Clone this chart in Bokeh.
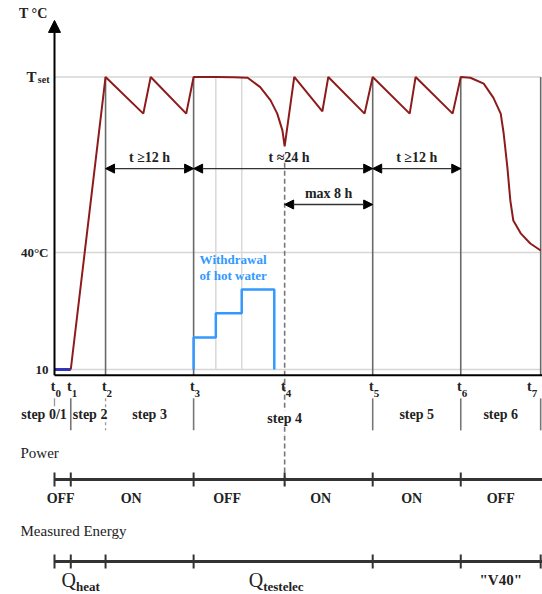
from bokeh.plotting import figure
from bokeh.models import Range1d, Arrow, NormalHead, ColumnDataSource
from bokeh.layouts import column
from bokeh.embed import file_html
from bokeh.resources import INLINE
from bokeh.core.properties import value

# ---------------- data ----------------
T_SET = 85
T_MID = 40
T_COLD = 10
level_values = [T_SET, T_MID, T_COLD]
level_labels = ["T", "40°C", "10"]

event_subs = ["0", "1", "2", "3", "4", "5", "6", "7"]
event_times = [0.0, 2.2, 6.9, 18.8, 31.1, 43.0, 54.9, 65.7]   # hours

preheat_time = [0.0, 2.2]
preheat_temp = [10, 10]

tank_time = [2.2, 6.9, 12.0, 13.0, 17.8, 18.8, 21.8, 24.2, 26.1, 27.8, 29.2,
             30.1, 30.8, 31.1, 32.4, 36.2, 37.0, 41.9, 43.0, 48.0, 48.8, 53.8,
             54.9, 56.2, 58.0, 59.3, 60.3, 60.7, 61.2, 61.6, 62.0, 63.0, 64.3, 65.7]
tank_temp = [10, 85, 75.6, 85, 75.6, 85, 85, 84.9, 84.8, 82.4, 79.0,
             75.6, 71.3, 67.2, 85, 76.2, 85, 75.6, 85, 75.6, 85, 75.6,
             85, 84.8, 83.3, 79.7, 75.6, 70.5, 61.8, 53.3, 48.2, 44.9, 42.3, 40.5]

draw_edges = [18.8, 21.8, 25.3, 29.7]
draw_levels = [18.2, 24.4, 30.5]

step_names = ["step 0/1", "step 2", "step 3", "step 4", "step 5", "step 6"]

power_bounds_idx = [0, 1, 3, 4, 5, 6, 7]
power_states = ["OFF", "ON", "OFF", "ON", "ON", "OFF"]
energy_bounds_idx = [0, 1, 2, 3, 5, 6, 7]

# ---------------- layout constants ----------------
W = 542
H1 = 435
H2 = 159
PX_PER_H = 7.4
X0 = -54 / PX_PER_H
X1 = X0 + W / PX_PER_H
Y0, Y1 = -6.92, 104.6
AXIS_T = 8.5
SERIF = value("'Liberation Serif', serif")
TXT = "#222222"

et = event_times

p1 = figure(width=W, height=H1, x_range=Range1d(X0, X1), y_range=Range1d(Y0, Y1),
            output_backend="svg", toolbar_location=None, min_border=0,
            background_fill_color="white", border_fill_color="white")
p1.axis.visible = False
p1.grid.visible = False
p1.outline_line_color = None

# light horizontal reference lines
p1.segment(x0=[0] * 3, x1=[et[-1]] * 3, y0=level_values, y1=level_values,
           line_color="#d6d6d6", line_width=1.5)
# light vertical lines at withdrawal steps
p1.segment(x0=draw_edges[1:3], x1=draw_edges[1:3], y0=[T_COLD] * 2, y1=[T_SET] * 2,
           line_color="#d9d9d9", line_width=1.5)
# dark phase boundaries
bounds = [et[2], et[3], et[5], et[6], et[7]]
p1.segment(x0=bounds, x1=bounds, y0=[AXIS_T] * 5, y1=[T_SET] * 5,
           line_color="#6a6a6a", line_width=1.6)
# separators below axis
sep = [et[1], et[3], et[5], et[6], et[7]]
p1.segment(x0=sep, x1=sep, y0=[2.6] * 5, y1=[-5.6] * 5, line_color="#777777", line_width=1.6)
p1.segment(x0=[et[2]], x1=[et[2]], y0=[2.6], y1=[-5.6], line_color="#999999",
           line_width=1.3, line_dash="3 3")
p1.segment(x0=[et[0]], x1=[et[0]], y0=[2.6], y1=[0.6], line_color="#999999", line_width=1.3)
# t4 dashed
p1.segment(x0=[et[4]], x1=[et[4]], y0=[63], y1=[Y0], line_color="#777777",
           line_width=1.6, line_dash="5 3")

# withdrawal step profile
wx, wy = [draw_edges[0]], [T_COLD]
for i, lv in enumerate(draw_levels):
    wx += [draw_edges[i], draw_edges[i + 1]]
    wy += [lv, lv]
wx.append(draw_edges[-1])
wy.append(T_COLD)
p1.line(wx, wy, line_color="#3399ff", line_width=2.5)

# curves
p1.line(preheat_time, preheat_temp, line_color="#3333bb", line_width=3)
p1.line(tank_time, tank_temp, line_color="#8e1b1b", line_width=2)

# x axis line
p1.segment(x0=[0], x1=[X1], y0=[AXIS_T], y1=[AXIS_T], line_color="black", line_width=2)
# y axis arrow
p1.add_layout(Arrow(x_start=0, y_start=AXIS_T, x_end=0, y_end=99.5, line_color="black",
                    line_width=2, end=NormalHead(size=12, fill_color="black", line_color="black")))

# duration arrows
ARROW_T = 61.5
MAX8_T = 52.3
arr = ColumnDataSource(dict(x0=[et[2], et[3], et[5], et[4]], x1=[et[3], et[5], et[6], et[5]],
                            y=[ARROW_T, ARROW_T, ARROW_T, MAX8_T]))
p1.add_layout(Arrow(x_start="x0", y_start="y", x_end="x1", y_end="y", source=arr,
                    line_color="#333333", line_width=1.3,
                    start=NormalHead(size=9, fill_color="black", line_color="black"),
                    end=NormalHead(size=9, fill_color="black", line_color="black")))
p1.text(x=[(et[2] + et[3]) / 2, (et[3] + et[5]) / 2 + 0.8, (et[5] + et[6]) / 2, (et[4] + et[5]) / 2],
        y=[ARROW_T, ARROW_T, ARROW_T, MAX8_T],
        text=["t ≥12 h", "t ≈24 h", "t ≥12 h", "max 8 h"],
        text_font=SERIF, text_font_size="14px", text_font_style="bold", text_color=TXT,
        text_align="center", text_baseline="middle", y_offset=-11)

# y labels
p1.text(x=[0, 0], y=[T_MID, T_COLD], text=level_labels[1:], text_font=SERIF,
        text_font_size="13px", text_font_style="bold", text_color=TXT,
        text_align="right", text_baseline="middle", x_offset=-6)
p1.text(x=[0], y=[T_SET], text=["T"], text_font=SERIF, text_font_size="15px",
        text_font_style="bold", text_color=TXT, text_align="right",
        text_baseline="middle", x_offset=-18)
p1.text(x=[0], y=[T_SET], text=["set"], text_font=SERIF, text_font_size="10px",
        text_font_style="bold", text_color=TXT, text_align="right",
        text_baseline="middle", x_offset=-5, y_offset=3)
p1.text(x=[0], y=[101.3], text=["T °C"], text_font=SERIF, text_font_size="14px",
        text_font_style="bold", text_color=TXT, text_align="right",
        text_baseline="middle", x_offset=-7)

# time labels (last one nudged inward so it stays on the page)
t_dx = [1] * 7 + [-9]
p1.text(x=et, y=[AXIS_T] * 8, text=["t"] * 8, text_font=SERIF, text_font_size="14px",
        text_font_style="bold", text_color=TXT, text_align="right",
        text_baseline="middle", x_offset=t_dx, y_offset=11)
p1.text(x=et, y=[AXIS_T] * 8, text=event_subs, text_font=SERIF, text_font_size="11px",
        text_font_style="bold", text_color=TXT, text_align="left",
        text_baseline="middle", x_offset=t_dx, y_offset=18)

# step labels
step_x = [et[1], et[1], (et[2] + et[3]) / 2, et[4], (et[5] + et[6]) / 2, (et[6] + et[7]) / 2]
p1.text(x=step_x[:1], y=[AXIS_T], text=step_names[:1], text_font=SERIF, text_font_size="14px",
        text_font_style="bold", text_color=TXT, text_align="right", text_baseline="middle",
        x_offset=-4, y_offset=39)
p1.text(x=step_x[1:2], y=[AXIS_T], text=step_names[1:2], text_font=SERIF, text_font_size="14px",
        text_font_style="bold", text_color=TXT, text_align="left", text_baseline="middle",
        x_offset=2, y_offset=39)
p1.text(x=step_x[2:3] + step_x[4:], y=[AXIS_T] * 3, text=[step_names[2]] + step_names[4:],
        text_font=SERIF, text_font_size="14px", text_font_style="bold", text_color=TXT,
        text_align="center", text_baseline="middle", y_offset=39)
p1.text(x=[step_x[3]], y=[AXIS_T], text=[step_names[3]], text_font=SERIF, text_font_size="14px",
        text_font_style="bold", text_color=TXT, text_align="center", text_baseline="middle",
        y_offset=43, background_fill_color="white")

# withdrawal label
p1.text(x=[draw_edges[0]] * 2, y=[draw_levels[-1]] * 2, text=["Withdrawal", "of hot water"],
        text_font=SERIF, text_font_size="13px", text_font_style="bold", text_color="#3399ff",
        text_align="left", text_baseline="middle", x_offset=6, y_offset=[-30, -14])

# ---------------- lower panel ----------------
p2 = figure(width=W, height=H2, x_range=p1.x_range, y_range=Range1d(-H2, 0),
            output_backend="svg", toolbar_location=None, min_border=0,
            background_fill_color="white", border_fill_color="white")
p2.axis.visible = False
p2.grid.visible = False
p2.outline_line_color = None

POWER_Y = -44
ENERGY_Y = -126
p2.segment(x0=[et[4]], x1=[et[4]], y0=[0], y1=[POWER_Y - 6], line_color="#777777",
           line_width=1.6, line_dash="5 3")

p2.text(x=[0, 0], y=[-17, -95], text=["Power", "Measured Energy"], text_font=SERIF,
        text_font_size="15px", text_color=TXT, text_align="left", text_baseline="middle",
        x_offset=-34)

for yy, idx in ((POWER_Y, power_bounds_idx), (ENERGY_Y, energy_bounds_idx)):
    p2.segment(x0=[0], x1=[X1], y0=[yy], y1=[yy], line_color="#333333", line_width=3)
    tx = [et[i] for i in idx[:-1]] if yy == POWER_Y else [et[i] for i in idx]
    p2.segment(x0=tx, x1=tx, y0=[yy - 7] * len(tx), y1=[yy + 7] * len(tx),
               line_color="#333333", line_width=2)

pmid = [(et[power_bounds_idx[i]] + et[power_bounds_idx[i + 1]]) / 2 for i in range(len(power_states))]
p2.text(x=pmid, y=[POWER_Y] * len(pmid), text=power_states, text_font=SERIF,
        text_font_size="14px", text_font_style="bold", text_color=TXT, text_align="center",
        text_baseline="middle", y_offset=19, x_offset=[-2, -1, -12, -8, -5, 0])

q_x = [(et[0] + et[2]) / 2, (et[3] + et[5]) / 2]
p2.text(x=q_x, y=[ENERGY_Y] * 2, text=["Q", "Q"], text_font=SERIF, text_font_size="20px",
        text_color=TXT, text_align="right", text_baseline="middle", y_offset=18, x_offset=[-4, -20])
p2.text(x=q_x, y=[ENERGY_Y] * 2, text=["heat", "testelec"], text_font=SERIF,
        text_font_size="13px", text_font_style="bold", text_color=TXT, text_align="left",
        text_baseline="middle", y_offset=25, x_offset=[-4, -20])
p2.text(x=[(et[6] + et[7]) / 2], y=[ENERGY_Y], text=['"V40"'], text_font=SERIF,
        text_font_size="15px", text_font_style="bold", text_color=TXT, text_align="center",
        text_baseline="middle", y_offset=18)

layout = column(p1, p2, spacing=0)
open("out.html", "w").write(file_html(layout, INLINE))
